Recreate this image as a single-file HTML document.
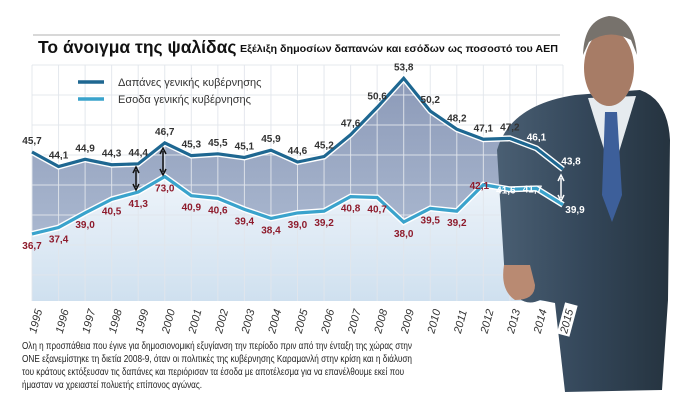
<!DOCTYPE html>
<html><head><meta charset="utf-8"><style>
body{margin:0;background:#fff;width:691px;height:420px;overflow:hidden}
svg{display:block;font-family:"Liberation Sans",sans-serif}
</style></head><body>
<svg id="s" width="691" height="420" viewBox="0 0 691 420">
<defs>
<linearGradient id="lg" x1="0" y1="0" x2="0" y2="1"><stop offset="0" stop-color="#eef4fa"/><stop offset="1" stop-color="#cfe0ef"/></linearGradient>
<linearGradient id="dg" x1="0" y1="0" x2="0" y2="1"><stop offset="0" stop-color="#8c9ab8"/><stop offset="1" stop-color="#a9b7cf"/></linearGradient>
<linearGradient id="suit" x1="0" y1="0" x2="1" y2="0"><stop offset="0" stop-color="#4a5f73"/><stop offset="0.5" stop-color="#34475a"/><stop offset="1" stop-color="#25333f"/></linearGradient>
</defs>
<line x1="33" y1="35" x2="560" y2="35" stroke="#ccc" stroke-width="1.5"/>
<text x="38" y="53" font-size="17.5" font-weight="bold" fill="#111">Το άνοιγμα της ψαλίδας</text>
<text x="240" y="52" font-size="10.5" font-weight="bold" fill="#111" textLength="318" lengthAdjust="spacingAndGlyphs">Εξέλιξη δημοσίων δαπανών και εσόδων ως ποσοστό του ΑΕΠ</text>
<g id="chart"></g>
<g id="photo">
<path d="M497,150 Q510,105 575,95 L640,90 Q668,100 670,140 L668,300 L662,390 L565,392 L558,330 L555,303 L540,300 Q520,310 505,280 Z" fill="url(#suit)"/>
<path d="M588,98 L612,175 L636,96 Z" fill="#e6ebef"/>
<path d="M605,112 L617,112 L622,195 L612,222 L602,195 Z" fill="#3d5f9a"/>
<ellipse cx="609" cy="68" rx="25" ry="38" fill="#a77c66"/>
<path d="M583,55 Q584,20 609,16 Q634,17 637,55 L631,40 Q609,28 589,42 Z" fill="#77726c"/>
<path d="M504,265 Q500,290 515,300 Q535,300 535,285 L530,265 Z" fill="#b98a72"/>
</g>
<g id="lines"></g>
<text font-size="10.5" fill="#222">
<tspan x="22" y="349" textLength="390" lengthAdjust="spacingAndGlyphs">Ολη η προσπάθεια που έγινε για δημοσιονομική εξυγίανση την περίοδο πριν από την ένταξη της χώρας στην</tspan>
<tspan x="22" y="362" textLength="390" lengthAdjust="spacingAndGlyphs">ΟΝΕ εξανεμίστηκε τη διετία 2008-9, όταν οι πολιτικές της κυβέρνησης Καραμανλή στην κρίση και η διάλυση</tspan>
<tspan x="22" y="375" textLength="382" lengthAdjust="spacingAndGlyphs">του κράτους εκτόξευσαν τις δαπάνες και περιόρισαν τα έσοδα με αποτέλεσμα για να επανέλθουμε εκεί που</tspan>
<tspan x="22" y="388" textLength="180" lengthAdjust="spacingAndGlyphs">ήμασταν να χρειαστεί πολυετής επίπονος αγώνας.</tspan>
</text>
</svg>
<script>
var U=[45.7,44.1,44.9,44.3,44.4,46.7,45.3,45.5,45.1,45.9,44.6,45.2,47.6,50.6,53.8,50.2,48.2,47.1,47.2,46.1,43.8];
var L=[36.7,37.4,39.0,40.5,41.3,43.0,40.9,40.6,39.4,38.4,39.0,39.2,40.8,40.7,38.0,39.5,39.2,42.1,41.6,41.7,39.9];
var LL=["36,7","37,4","39,0","40,5","41,3","73,0","40,9","40,6","39,4","38,4","39,0","39,2","40,8","40,7","38,0","39,5","39,2","42,1","41,6","41,7","39,9"];
function X(i){return 32+i*26.55} function Y(v){return 152+(45.7-v)*9.1}
var c='',l='';
c+='<rect x="32" y="65" width="531" height="236" fill="#fff"/>';
var up=U.map(function(v,i){return X(i)+','+Y(v)}).join(' ');
var lo=L.map(function(v,i){return X(i)+','+Y(v)}).join(' ');
var loRev=L.map(function(v,i){return X(i)+','+Y(v)}).reverse().join(' ');
c+='<polygon points="'+lo+' 563,301 32,301" fill="url(#lg)"/>';
c+='<polygon points="'+up+' '+loRev+'" fill="url(#dg)"/>';
for(var i=0;i<=20;i++)c+='<line x1="'+X(i)+'" y1="65" x2="'+X(i)+'" y2="301" stroke="#e2e6ec" stroke-width="1" opacity="0.9"/>';
for(var y=65;y<=301;y+=30)c+='<line x1="32" y1="'+y+'" x2="563" y2="'+y+'" stroke="#e2e6ec" stroke-width="1" opacity="0.9"/>';
c+='<line x1="78" y1="82" x2="104" y2="82" stroke="#1e6791" stroke-width="3.5"/><text x="118" y="86" font-size="11" fill="#333">Δαπάνες γενικής κυβέρνησης</text>';
c+='<line x1="78" y1="99" x2="104" y2="99" stroke="#3aa3cc" stroke-width="3.5"/><text x="118" y="103" font-size="11" fill="#333">Εσοδα γενικής κυβέρνησης</text>';
document.getElementById('chart').innerHTML=c;
l+='<polyline points="'+up+'" fill="none" stroke="#fff" stroke-width="6"/><polyline points="'+up+'" fill="none" stroke="#1e6791" stroke-width="3.2"/>';
l+='<polyline points="'+lo+'" fill="none" stroke="#fff" stroke-width="6"/><polyline points="'+lo+'" fill="none" stroke="#3aa3cc" stroke-width="3.2"/>';
var F='font-size="10" font-weight="bold" text-anchor="middle"';
for(i=0;i<=20;i++){
 var col=i>=19?'#fff':'#333';
 var yy=Y(U[i])-8, xx=X(i); if(i==20){yy=Y(U[i])-5;xx+=8}
 l+='<text x="'+xx+'" y="'+yy+'" '+F+' fill="'+col+'">'+U[i].toFixed(1).replace('.',',')+'</text>';
 var lc=i>=18?'#fff':'#8e1b2c'; var ly=Y(L[i])+15, lx=X(i);
 if(i>=17){ly=Y(L[i])+4;lx=X(i)-4} if(i==20){lx=X(i)+12;ly=Y(L[i])+8}
 l+='<text x="'+lx+'" y="'+ly+'" '+F+' fill="'+lc+'">'+LL[i]+'</text>';
}
for(i=0;i<=20;i++){var bg=i==20?'<rect x="-2" y="-10" width="32" height="13" fill="#fff"/>':'';l+='<g transform="translate('+(X(i)+4)+',334) rotate(-75)">'+bg+'<text font-size="11" font-style="italic" fill="#333">'+(1995+i)+'</text></g>';}
function arr(x,y1,y2,col){return '<line x1="'+x+'" y1="'+(y1+3)+'" x2="'+x+'" y2="'+(y2-3)+'" stroke="'+col+'" stroke-width="1.5"/><path d="M'+(x-3)+','+(y1+6)+' L'+x+','+y1+' L'+(x+3)+','+(y1+6)+'" fill="none" stroke="'+col+'" stroke-width="1.5"/><path d="M'+(x-3)+','+(y2-6)+' L'+x+','+y2+' L'+(x+3)+','+(y2-6)+'" fill="none" stroke="'+col+'" stroke-width="1.5"/>'}
l+=arr(136,167,190,'#111')+arr(163,148,175,'#111')+arr(561,175,201,'#fff');
document.getElementById('lines').innerHTML=l;
</script>
</body></html>
